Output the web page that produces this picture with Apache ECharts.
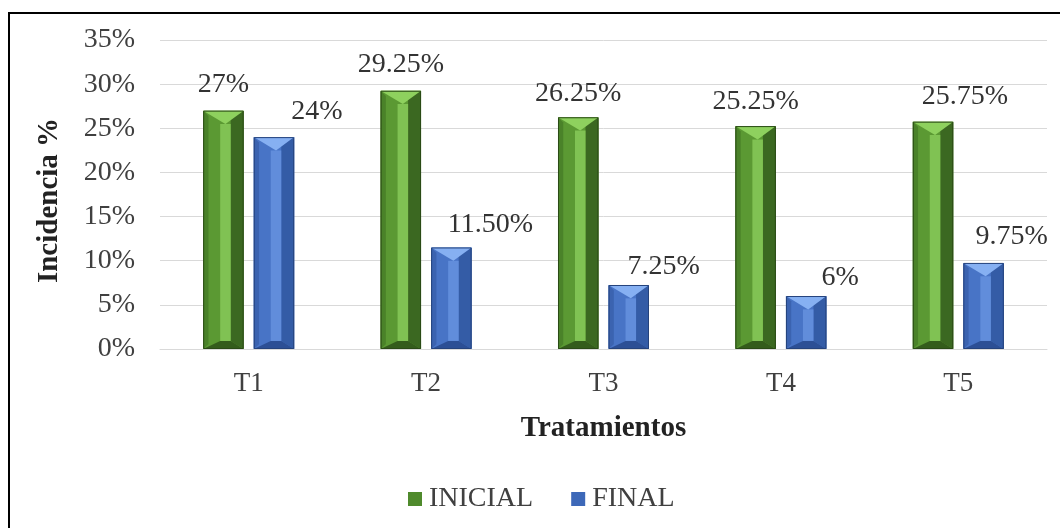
<!DOCTYPE html>
<html>
<head>
<meta charset="utf-8">
<title>Incidencia por tratamiento</title>
<script src="https://cdn.jsdelivr.net/npm/echarts@6/dist/echarts.min.js"></script>
<style>
  html, body { margin: 0; padding: 0; background: #ffffff; }
  #chart { width: 1060px; height: 528px; }
</style>
</head>
<body>
<div id="chart"></div>
<script>
// Treatments and incidence (%) at the start and end of the trial
const categories = ['T1', 'T2', 'T3', 'T4', 'T5'];
const inicialValues = [27, 29.25, 26.25, 25.25, 25.75];
const finalValues = [24, 11.5, 7.25, 6, 9.75];
const inicialLabels = ['27%', '29.25%', '26.25%', '25.25%', '25.75%'];
const finalLabels = ['24%', '11.50%', '7.25%', '6%', '9.75%'];
const yTicks = [0, 5, 10, 15, 20, 25, 30, 35];

// Hand-placed label nudges in pixels [dx, dy from bar top to label centre]
const inicialLabelShift = [[0, -26], [0, -26], [0, -24], [0, -24], [32, -25]];
const finalLabelShift = [[43, -25], [39, -23], [35, -18], [34, -18], [28, -26]];

const FONT = '"Liberation Serif", "Times New Roman", serif';
const BAR_W = 0.228;

const greenPal = {
  offset: -0.1425, mid: '#5b9933', edge: '#4a8229', light: '#80c253',
  dark: '#3b6821', cap: '#8ed15e', foot: '#345c1c', line: '#2a4a16'
};
const bluePal = {
  offset: 0.1425, mid: '#4874c6', edge: '#3b63b0', light: '#618ddb',
  dark: '#345ca6', cap: '#86b0f2', foot: '#2c4f95', line: '#25437c'
};

// Bevelled column: flat body, light centre strip, dark right face,
// a light "V" cap at the top and a darker foot at the bottom.
function bevelBar(pal, labels, shifts) {
  return function (params, api) {
    const i = params.dataIndex;
    const cat = api.value(0);
    const v = api.value(1);
    const base = api.coord([cat, 0]);
    const top = api.coord([cat, v]);
    const band = api.size([1, 0])[0];
    const w = band * BAR_W;
    const cx = base[0] + band * pal.offset;
    const x0 = cx - w / 2, x1 = cx + w / 2;
    const y0 = top[1], y1 = base[1];
    const h = y1 - y0;
    const capD = Math.min(w * 0.33, h * 0.45);
    const footD = Math.min(w * 0.2, h * 0.3);
    const lx = x0 + w * 0.42, rx = x0 + w * 0.68;
    const poly = (pts, fill) => ({ type: 'polygon', shape: { points: pts }, style: { fill: fill } });
    const children = [
      { type: 'rect', shape: { x: x0, y: y0, width: w, height: h }, style: { fill: pal.mid } },
      poly([[x0, y0], [x0 + w * 0.13, y0 + capD * 0.4], [x0 + w * 0.13, y1 - footD * 0.6], [x0, y1]], pal.edge),
      poly([[rx, y0 + capD * 0.6], [x1, y0], [x1, y1], [rx, y1 - footD]], pal.dark),
      { type: 'rect', shape: { x: lx, y: y0 + capD, width: rx - lx, height: Math.max(0, h - capD - footD) }, style: { fill: pal.light } },
      poly([[x0, y0], [x1, y0], [x0 + w * 0.55, y0 + capD]], pal.cap),
      poly([[x0, y1], [lx, y1 - footD], [rx, y1 - footD], [x1, y1]], pal.foot),
      { type: 'rect', shape: { x: x0 + 0.5, y: y0 + 0.5, width: w - 1, height: h - 1 }, style: { fill: 'none', stroke: pal.line, lineWidth: 1 } },
      {
        type: 'text',
        style: {
          text: labels[i],
          x: cx + shifts[i][0],
          y: y0 + shifts[i][1],
          align: 'center',
          verticalAlign: 'middle',
          fontFamily: FONT,
          fontSize: 28,
          fill: '#333333'
        }
      }
    ];
    return { type: 'group', children: children };
  };
}

const chart = echarts.init(document.getElementById('chart'), null, { renderer: 'canvas' });

chart.setOption({
  backgroundColor: '#ffffff',
  animation: false,
  graphic: [{
    type: 'rect',
    shape: { x: 9, y: 13, width: 1070, height: 560 },
    style: { fill: 'none', stroke: '#000000', lineWidth: 2 },
    silent: true
  }],
  grid: { left: 160, right: 13, top: 40, bottom: 179 },
  legend: {
    top: 480,
    left: 403,
    itemWidth: 14,
    itemHeight: 14,
    itemGap: 38,
    icon: 'rect',
    textStyle: { fontFamily: FONT, fontSize: 28, color: '#404040', padding: [0, 0, 0, 2] },
    data: ['INICIAL', 'FINAL']
  },
  xAxis: {
    type: 'category',
    data: categories,
    name: 'Tratamientos',
    nameLocation: 'middle',
    nameGap: 65,
    nameTextStyle: { fontFamily: FONT, fontSize: 29, fontWeight: 'bold', color: '#222222' },
    axisLine: { show: true, lineStyle: { color: '#d9d9d9', width: 1 } },
    axisTick: { show: false },
    axisLabel: { fontFamily: FONT, fontSize: 27, color: '#404040', margin: 21 }
  },
  yAxis: {
    type: 'value',
    min: yTicks[0],
    max: yTicks[yTicks.length - 1],
    interval: yTicks[1] - yTicks[0],
    name: 'Incidencia %',
    nameLocation: 'middle',
    nameGap: 96,
    nameTextStyle: { fontFamily: FONT, fontSize: 29, fontWeight: 'bold', color: '#222222', padding: [0, 12, 0, 0] },
    axisLine: { show: false },
    axisTick: { show: false },
    splitLine: { lineStyle: { color: '#d9d9d9', width: 1 } },
    axisLabel: { fontFamily: FONT, fontSize: 28, color: '#404040', margin: 25, formatter: '{value}%' }
  },
  series: [
    {
      name: 'INICIAL',
      type: 'custom',
      renderItem: bevelBar(greenPal, inicialLabels, inicialLabelShift),
      itemStyle: { color: '#4f8a2c' },
      encode: { x: 0, y: 1 },
      data: inicialValues.map((v, i) => [i, v])
    },
    {
      name: 'FINAL',
      type: 'custom',
      renderItem: bevelBar(bluePal, finalLabels, finalLabelShift),
      itemStyle: { color: '#3d68b8' },
      encode: { x: 0, y: 1 },
      data: finalValues.map((v, i) => [i, v])
    }
  ]
});
</script>
</body>
</html>
